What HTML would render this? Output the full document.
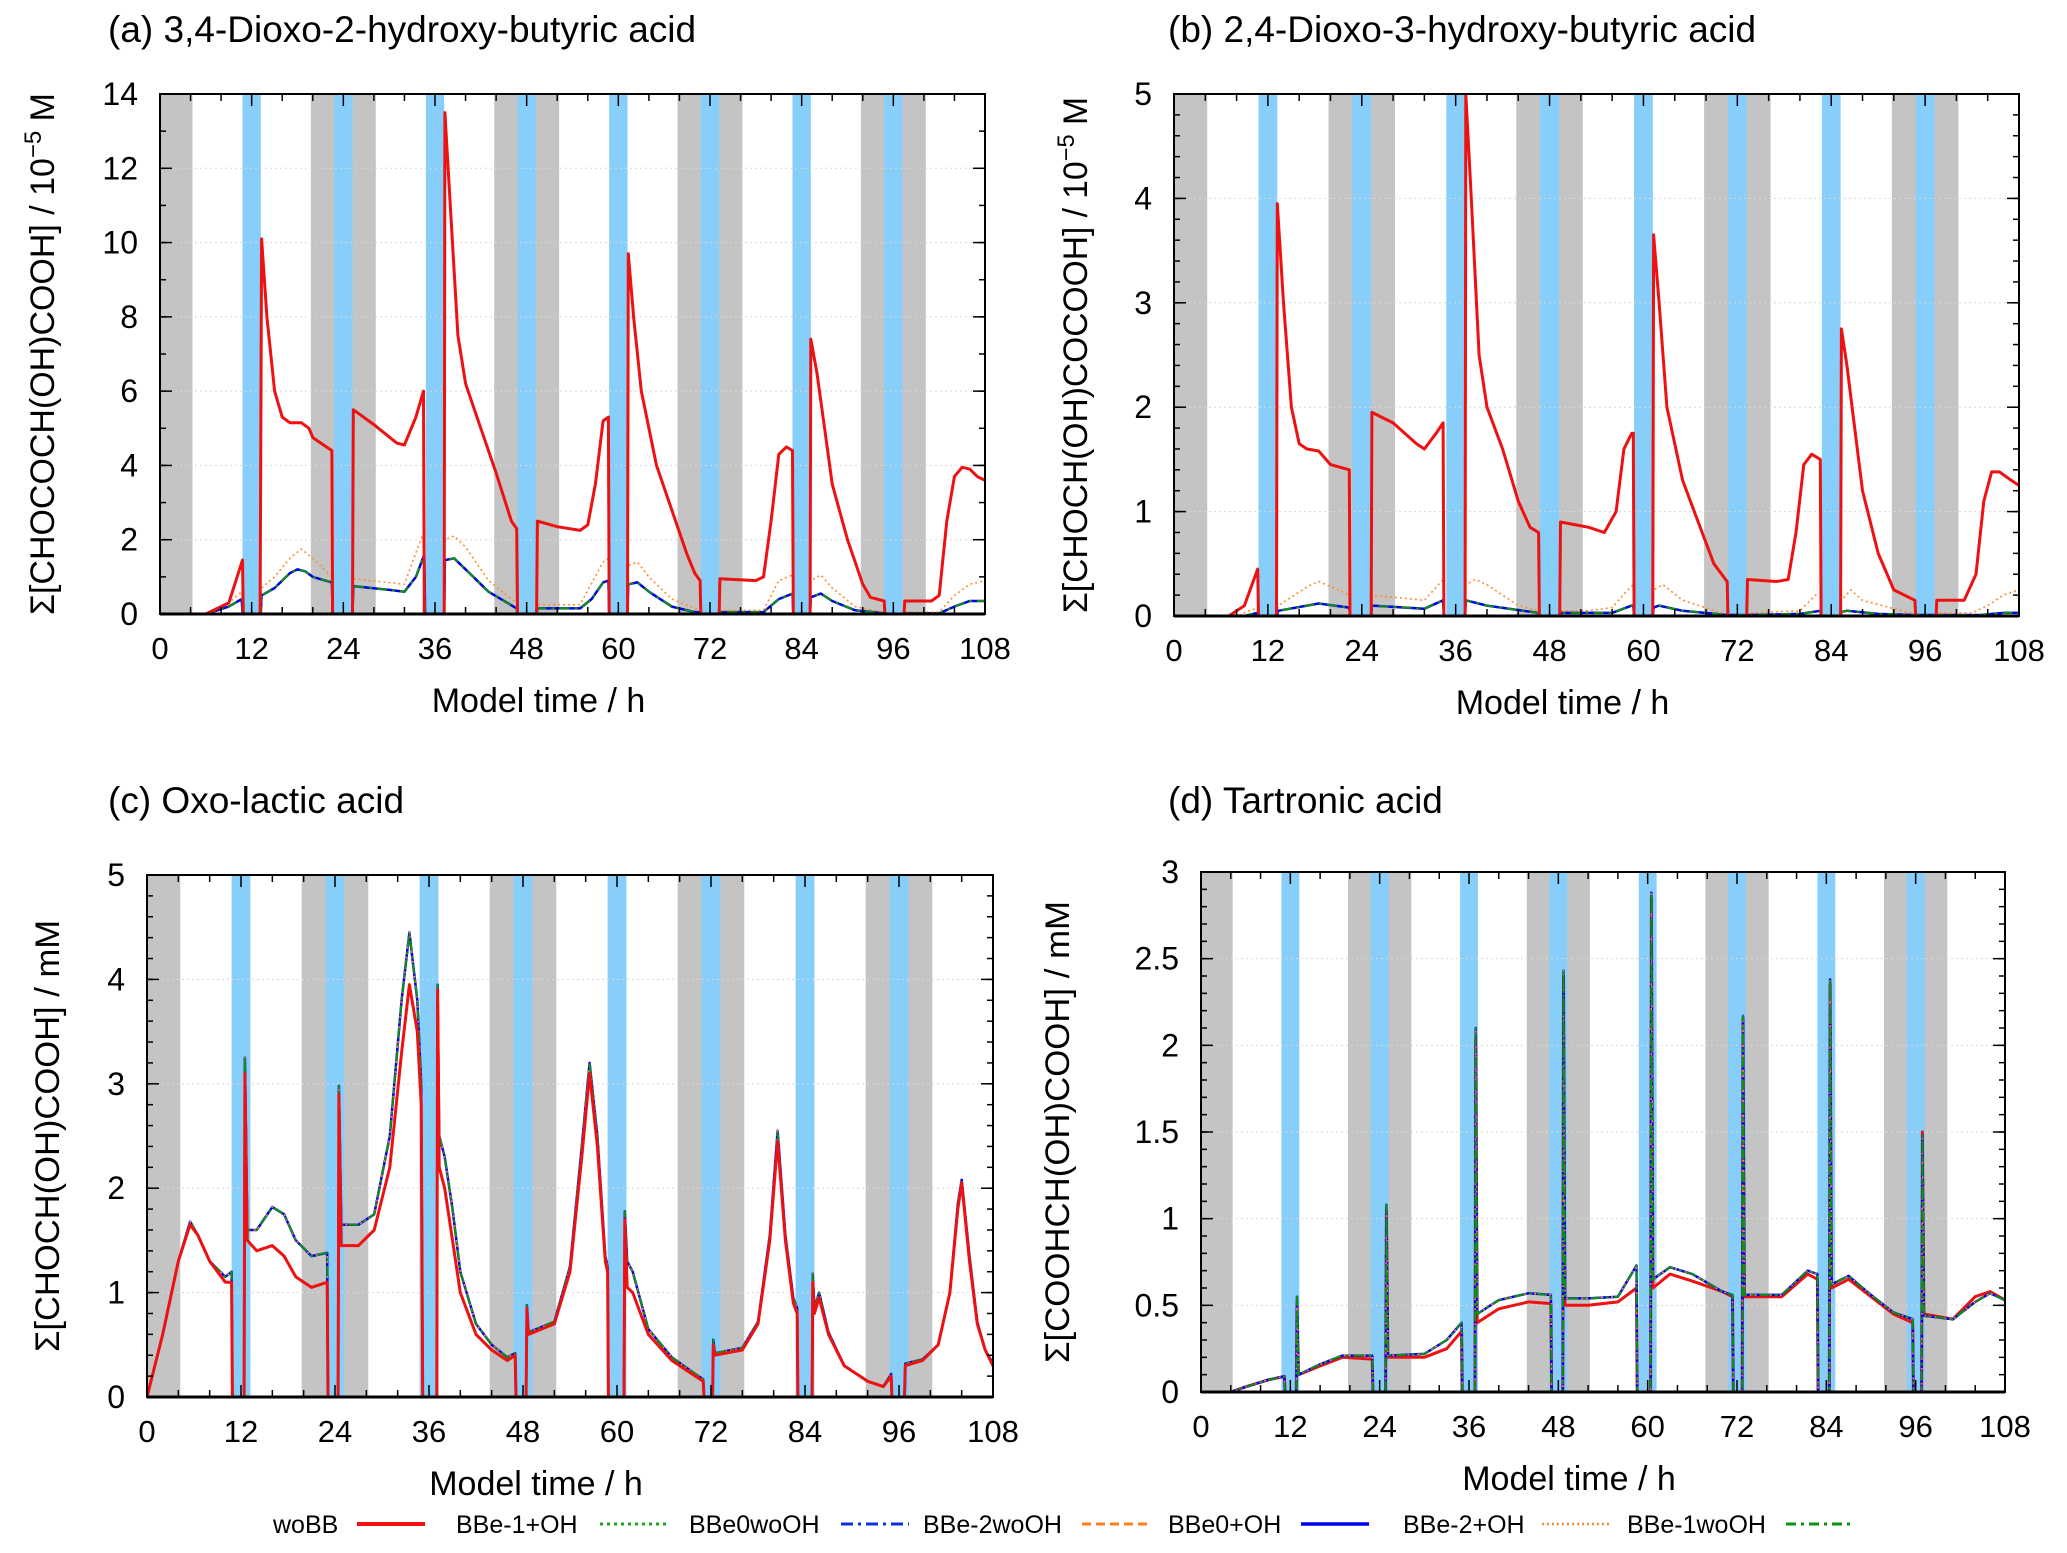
<!DOCTYPE html>
<html><head><meta charset="utf-8"><style>
html,body{margin:0;padding:0;background:#fff;}
svg{display:block;font-family:"Liberation Sans",sans-serif;}
</style></head><body>
<svg id="fig" width="2067" height="1553" viewBox="0 0 2067 1553" xmlns="http://www.w3.org/2000/svg"></svg>
<script>
// ---- data ----
const grayBands = [[-4.25,4.25],[19.75,28.25],[43.75,52.25],[67.75,76.25],[91.75,100.25]];
const blueBands = [[10.8,13.2],[22.8,25.2],[34.8,37.2],[46.8,49.2],[58.8,61.2],[70.8,73.2],[82.8,85.2],[94.8,97.2]];
const xTicks = [0,12,24,36,48,60,72,84,96,108];

const aRed = [[0,0],[6,0],[9,0.3],[10.8,1.45],[10.9,0],[13.1,0],[13.3,10.1],[14,8],[15,6],[16,5.3],[17,5.15],[18.5,5.15],[19.5,5.0],[20,4.75],[22.5,4.4],[22.6,0],[25.2,0],[25.3,5.5],[28,5.1],[31,4.6],[32,4.55],[33.5,5.3],[34.5,6.0],[34.6,0],[37.2,0],[37.3,13.5],[38,11],[39,7.5],[40,6.2],[42,5],[44,3.8],[46,2.5],[46.7,2.3],[46.8,0],[49.3,0],[49.4,2.5],[52,2.35],[55,2.25],[56,2.4],[57,3.5],[58,5.2],[58.7,5.3],[58.8,0],[61.2,0],[61.3,9.7],[62,8],[63,6],[65,4],[67,2.8],[69,1.6],[70,1.1],[70.7,0.9],[70.8,0],[73.2,0],[73.3,0.95],[78,0.9],[79,1.0],[80,2.5],[81,4.3],[82,4.5],[82.8,4.4],[82.9,0],[85.1,0],[85.2,7.4],[86,6.5],[87,5],[88,3.5],[90,2],[92,0.8],[93,0.45],[94.8,0.35],[94.9,0],[97.4,0],[97.5,0.35],[101,0.35],[102,0.5],[103,2.5],[104,3.7],[105,3.95],[106,3.9],[107,3.7],[108,3.6]];
const aOthers = [[0,0],[6,0],[9,0.2],[10.7,0.4],[10.8,0],[13.2,0],[13.3,0.5],[15,0.7],[17,1.1],[18,1.2],[19,1.15],[20,1.0],[22.5,0.85],[22.6,0],[25.2,0],[25.3,0.75],[30,0.65],[32,0.6],[33.5,1.0],[34.6,1.6],[34.7,0],[37.2,0],[37.3,1.45],[38.5,1.5],[40,1.2],[43,0.6],[46.7,0.15],[46.8,0],[49.3,0],[49.4,0.15],[55,0.15],[56.5,0.4],[58,0.85],[58.7,0.9],[58.8,0],[61.2,0],[61.3,0.8],[62.5,0.85],[64,0.6],[67,0.2],[70,0.05],[70.7,0.05],[70.8,0],[73.2,0],[73.3,0.05],[79,0.05],[81,0.4],[82.8,0.55],[82.9,0],[85.1,0],[85.2,0.45],[86.5,0.55],[88,0.35],[91,0.1],[94.8,0.02],[94.9,0],[97.4,0],[97.5,0.02],[102,0.02],[104,0.2],[106,0.35],[108,0.35]];
const aDotted = [[0,0],[6,0],[9,0.3],[10.7,0.6],[10.8,0],[13.2,0],[13.3,0.7],[15,1.0],[17,1.5],[18.5,1.75],[20,1.5],[22.5,1.0],[22.6,0],[25.2,0],[25.3,0.95],[32,0.8],[34.5,2.2],[34.6,0],[37.2,0],[37.3,2.0],[38.5,2.1],[40,1.8],[43,0.9],[46.7,0.3],[46.8,0],[49.3,0],[49.4,0.25],[55,0.25],[58,1.4],[58.7,1.5],[58.8,0],[61.2,0],[61.3,1.3],[62.5,1.4],[64,1.0],[67,0.4],[70.7,0.1],[70.8,0],[73.2,0],[73.3,0.1],[79,0.1],[81,0.9],[82.8,1.05],[82.9,0],[85.1,0],[85.2,0.9],[86.5,1.05],[88,0.7],[91,0.2],[94.8,0.05],[94.9,0],[97.4,0],[97.5,0.05],[102,0.05],[104,0.5],[106,0.8],[108,0.9]];

const bRed = [[0,0],[7,0],[9,0.1],[10.7,0.45],[10.8,0],[13.1,0],[13.2,3.95],[14,3],[15,2],[16,1.65],[17,1.6],[18.5,1.58],[20,1.45],[22.4,1.4],[22.5,0],[25.2,0],[25.3,1.95],[28,1.85],[31,1.65],[32,1.6],[33.5,1.75],[34.4,1.85],[34.5,0],[37.2,0],[37.3,5.0],[38,4],[39,2.5],[40,2.0],[42,1.6],[44,1.1],[45.5,0.85],[46.6,0.8],[46.7,0],[49.3,0],[49.4,0.9],[53,0.85],[55,0.8],[56.5,1.0],[57.5,1.6],[58.5,1.75],[58.7,1.75],[58.8,0],[61.2,0],[61.3,3.65],[62,3],[63,2],[65,1.3],[67,0.9],[69,0.5],[70.5,0.35],[70.7,0.33],[70.8,0],[73.2,0],[73.3,0.35],[77,0.33],[78.5,0.35],[79.5,0.8],[80.5,1.45],[81.5,1.55],[82.6,1.5],[82.7,0],[85.2,0],[85.3,2.75],[86,2.4],[87,1.8],[88,1.2],[90,0.6],[92,0.25],[94.7,0.15],[94.8,0],[97.4,0],[97.5,0.15],[101,0.15],[102.5,0.4],[103.5,1.1],[104.5,1.38],[105.5,1.38],[107,1.3],[108,1.25]];
const bOthers = [[0,0],[9,0],[10.7,0.03],[10.8,0],[13.2,0],[13.3,0.05],[17,0.1],[18.5,0.12],[22.4,0.08],[22.5,0],[25.2,0],[25.3,0.1],[32,0.07],[34.4,0.15],[34.5,0],[37.2,0],[37.3,0.15],[40,0.1],[46.6,0.03],[46.7,0],[49.3,0],[49.4,0.03],[56,0.03],[58.5,0.1],[58.7,0.1],[58.8,0],[61.2,0],[61.3,0.08],[62,0.1],[65,0.05],[70.7,0.01],[73.3,0.01],[80,0.02],[82.6,0.05],[82.7,0],[85.2,0],[85.3,0.04],[86,0.05],[90,0.02],[94.7,0.01],[97.5,0.01],[103,0.01],[106,0.03],[108,0.03]];
const bDotted = [[0,0],[8,0],[10.7,0.08],[10.8,0],[13.2,0],[13.3,0.1],[15,0.18],[17,0.28],[18.5,0.33],[21,0.25],[22.4,0.2],[22.5,0],[25.2,0],[25.3,0.2],[32,0.15],[34.4,0.35],[34.5,0],[37.2,0],[37.3,0.3],[38.5,0.35],[40,0.3],[44,0.1],[46.6,0.05],[46.7,0],[49.3,0],[49.4,0.05],[53,0.05],[56,0.08],[58,0.25],[58.7,0.3],[58.8,0],[61.2,0],[61.3,0.25],[62.5,0.3],[65,0.15],[70,0.03],[70.7,0.03],[70.8,0],[73.2,0],[73.3,0.03],[80,0.05],[82,0.2],[82.6,0.2],[82.7,0],[85.2,0],[85.3,0.15],[86.5,0.25],[88,0.15],[94,0.03],[94.7,0.03],[94.8,0],[97.4,0],[97.5,0.03],[102,0.03],[104,0.1],[106,0.2],[108,0.25]];

const cRed = [[0,0],[2,0.6],[4,1.3],[5.5,1.65],[6.5,1.55],[8,1.3],[10,1.1],[10.8,1.1],[10.9,0],[12.4,0],[12.5,3.1],[12.8,1.5],[14,1.4],[16,1.45],[17.5,1.35],[19,1.15],[21,1.05],[23,1.1],[23.1,0],[24.4,0],[24.5,2.9],[24.8,1.45],[27,1.45],[29,1.6],[31,2.2],[32.5,3.3],[33.5,3.95],[34.5,3.5],[35,2.8],[35.2,0],[37,0],[37.1,3.9],[37.3,2.2],[38,2.0],[39,1.5],[40,1.0],[42,0.6],[44,0.45],[46,0.35],[47,0.4],[47.1,0],[48.4,0],[48.5,0.85],[48.7,0.6],[52,0.7],[54,1.2],[55.5,2.3],[56.5,3.1],[57.5,2.4],[58.5,1.3],[58.8,1.2],[58.9,0],[60.9,0],[61,1.7],[61.3,1.05],[62,1.0],[64,0.6],[67,0.35],[70,0.2],[71,0.15],[71.1,0],[72.2,0],[72.3,0.5],[72.5,0.4],[76,0.45],[78,0.7],[79.5,1.5],[80.5,2.45],[81.5,1.5],[82.5,0.9],[83,0.8],[83.1,0],[84.9,0],[85,1.1],[85.2,0.8],[85.8,0.95],[87,0.6],[89,0.3],[92,0.15],[94,0.1],[95,0.2],[95.1,0],[96.7,0],[96.8,0.3],[99,0.35],[101,0.5],[102.5,1.0],[103.5,1.8],[104,2.05],[105,1.3],[106,0.7],[107,0.45],[108,0.3]];
const cOthers = [[0,0],[2,0.6],[4,1.3],[5.5,1.68],[6.5,1.55],[8,1.3],[10,1.15],[10.8,1.2],[10.9,0],[12.4,0],[12.5,3.25],[12.8,1.6],[14,1.6],[16,1.82],[17.5,1.75],[19,1.5],[21,1.35],[23,1.38],[23.1,0],[24.4,0],[24.5,2.98],[24.8,1.65],[27,1.65],[29,1.75],[31,2.5],[32.5,3.8],[33.5,4.45],[34.5,3.8],[35,3.0],[35.2,0],[37,0],[37.1,3.95],[37.3,2.5],[38,2.3],[39,1.8],[40,1.2],[42,0.7],[44,0.5],[46,0.38],[47,0.42],[47.1,0],[48.4,0],[48.5,0.88],[48.7,0.62],[52,0.72],[54,1.25],[55.5,2.4],[56.5,3.2],[57.5,2.5],[58.5,1.35],[58.8,1.25],[58.9,0],[60.9,0],[61,1.78],[61.3,1.3],[62,1.2],[64,0.65],[67,0.38],[70,0.22],[71,0.17],[71.1,0],[72.2,0],[72.3,0.55],[72.5,0.42],[76,0.47],[78,0.72],[79.5,1.55],[80.5,2.55],[81.5,1.55],[82.5,0.95],[83,0.85],[83.1,0],[84.9,0],[85,1.18],[85.2,0.85],[85.8,1.0],[87,0.62],[89,0.3],[92,0.15],[94,0.1],[95,0.22],[95.1,0],[96.7,0],[96.8,0.32],[99,0.36],[101,0.5],[102.5,1.0],[103.5,1.85],[104,2.08],[105,1.35],[106,0.72],[107,0.45],[108,0.32]];

const dRed = [[0,0],[4,0],[6,0.03],[9,0.07],[11.2,0.09],[11.3,0],[12.8,0],[12.9,0.5],[13.1,0.1],[16,0.15],[19,0.2],[23,0.19],[23.1,0],[24.8,0],[24.9,1.05],[25.1,0.2],[30,0.2],[33,0.25],[35,0.35],[35.1,0],[36.8,0],[36.9,2.05],[37.1,0.4],[40,0.48],[44,0.52],[47,0.51],[47.1,0],[48.6,0],[48.7,2.4],[48.9,0.5],[52,0.5],[56,0.52],[58.5,0.6],[58.6,0],[60.4,0],[60.5,2.85],[60.7,0.6],[63,0.68],[66,0.64],[70,0.58],[71.4,0.55],[71.5,0],[72.7,0],[72.8,2.15],[73,0.55],[78,0.55],[81.5,0.68],[82.8,0.65],[82.9,0],[84.4,0],[84.5,2.35],[84.7,0.6],[87,0.65],[90,0.55],[93,0.45],[95.6,0.4],[95.7,0],[96.8,0],[96.9,1.5],[97.1,0.45],[101,0.42],[104,0.55],[106,0.58],[108,0.53]];
const dOthers = [[0,0],[4,0],[6,0.03],[9,0.07],[11.2,0.09],[11.3,0],[12.8,0],[12.9,0.55],[13.1,0.1],[16,0.16],[19,0.21],[23,0.21],[23.1,0],[24.8,0],[24.9,1.08],[25.1,0.21],[30,0.22],[33,0.3],[35,0.4],[35.1,0],[36.8,0],[36.9,2.1],[37.1,0.45],[40,0.53],[44,0.57],[47,0.56],[47.1,0],[48.6,0],[48.7,2.43],[48.9,0.54],[52,0.54],[56,0.55],[58.5,0.73],[58.6,0],[60.4,0],[60.5,2.88],[60.7,0.65],[63,0.72],[66,0.68],[70,0.58],[71.4,0.56],[71.5,0],[72.7,0],[72.8,2.17],[73,0.56],[78,0.56],[81.5,0.7],[82.8,0.68],[82.9,0],[84.4,0],[84.5,2.38],[84.7,0.62],[87,0.67],[90,0.56],[93,0.46],[95.6,0.42],[95.7,0],[96.8,0],[96.9,1.48],[97.1,0.44],[101,0.42],[104,0.52],[106,0.57],[108,0.53]];

const aYTicks = [0,2,4,6,8,10,12,14];
const bYTicks = [0,1,2,3,4,5];
const cYTicks = [0,1,2,3,4,5];
const dYTicks = [0,0.5,1,1.5,2,2.5,3];

const legendLabels = ["woBB","BBe-1+OH","BBe0woOH","BBe-2woOH","BBe0+OH","BBe-2+OH","BBe-1woOH"];

// ---- drawing ----
const NS = "http://www.w3.org/2000/svg";
const svg = document.getElementById("fig");
function mk(tag, attrs, parent){
  const e = document.createElementNS(NS, tag);
  for (const k in attrs) e.setAttribute(k, attrs[k]);
  (parent||svg).appendChild(e);
  return e;
}
const styles = {
  "woBB":      {stroke:"#ee1111", w:3, dash:""},
  "BBe-1+OH":  {stroke:"#22a022", w:2, dash:"3,4"},
  "BBe0woOH":  {stroke:"#1030e0", w:2, dash:"12,5,3,5"},
  "BBe-2woOH": {stroke:"#ff7f20", w:2, dash:"9,5"},
  "BBe0+OH":   {stroke:"#0000ee", w:2.5, dash:""},
  "BBe-2+OH":  {stroke:"#ff8c30", w:1.6, dash:"2,3"},
  "BBe-1woOH": {stroke:"#109010", w:2, dash:"10,5,3,5"}
};

function panel(p){
  const g = mk("g", {});
  
  
  const X = t => p.L + (t/108)*(p.R-p.L);
  const Y = v => p.B - (v/p.ymax)*(p.B-p.T);
  const clip = mk("clipPath", {id:"clip-"+p.id}, g);
  mk("rect", {x:p.L, y:p.T, width:p.R-p.L, height:p.B-p.T}, clip);
  const bg = mk("g", {"clip-path":"url(#clip-"+p.id+")"}, g);
  for (const b of grayBands){
    const r = mk("rect", {x:X(b[0]), y:p.T, width:X(b[1])-X(b[0]), height:p.B-p.T, fill:"#c4c4c4"}, bg);
    
    
  }
  for (const b of blueBands){
    const r = mk("rect", {x:X(b[0]), y:p.T, width:X(b[1])-X(b[0]), height:p.B-p.T, fill:"#87cefa"}, bg);
    
    
  }
  for (const v of p.yticks){
    if (v===0 || v===p.ymax) continue;
    const l = mk("line", {x1:p.L, x2:p.R, y1:Y(v), y2:Y(v), stroke:"#d8d8d8", "stroke-width":1, "stroke-dasharray":"2,3"}, g);
    
    
  }
  const order = [["BBe-1+OH",p.others],["BBe0woOH",p.others],["BBe-2woOH",p.others],["BBe0+OH",p.others],["BBe-2+OH",p.dotted||p.others],["BBe-1woOH",p.others],["woBB",p.red]];
  if (p.redUnder) order.unshift(order.pop());
  for (const [lab, data] of order){
    const s = styles[lab];
    const d = data.map((pt,i)=>(i?"L":"M")+X(pt[0]).toFixed(1)+","+Y(pt[1]).toFixed(1)).join("");
    const path = mk("path", {d:d, fill:"none", stroke:s.stroke, "stroke-width":s.w, "stroke-dasharray":s.dash, "stroke-linejoin":"round", "clip-path":"url(#clip-"+p.id+")"}, g);
    
    
  }
  const fr = mk("rect", {x:p.L, y:p.T, width:p.R-p.L, height:p.B-p.T, fill:"none", stroke:"#000", "stroke-width":2}, g);
  
  
  mk("line", {x1:p.L, x2:p.R, y1:p.B, y2:p.B, stroke:"#000", "stroke-width":3}, g);
  for (let t=0;t<=108;t+=4){
    const len = (t%12===0)?12:7;
    mk("line", {x1:X(t), x2:X(t), y1:p.B, y2:p.B-len, stroke:"#000", "stroke-width":1.5}, g);
    mk("line", {x1:X(t), x2:X(t), y1:p.T, y2:p.T+len, stroke:"#000", "stroke-width":1.5}, g);
  }
  for (const t of xTicks){
    const tx = mk("text", {x:X(t), y:p.B+45, "font-size":31, "text-anchor":"middle"}, g);
    tx.textContent = t;
    
    
  }
  for (let v=0; v<=p.ymax+1e-9; v+=p.minor){
    mk("line", {x1:p.L, x2:p.L+6, y1:Y(v), y2:Y(v), stroke:"#000", "stroke-width":1.5}, g);
    mk("line", {x1:p.R, x2:p.R-6, y1:Y(v), y2:Y(v), stroke:"#000", "stroke-width":1.5}, g);
  }
  for (const v of p.yticks){
    mk("line", {x1:p.L, x2:p.L+12, y1:Y(v), y2:Y(v), stroke:"#000", "stroke-width":1.5}, g);
    mk("line", {x1:p.R, x2:p.R-12, y1:Y(v), y2:Y(v), stroke:"#000", "stroke-width":1.5}, g);
    const tx = mk("text", {x:p.L-22, y:Y(v)+11, "font-size":32, "text-anchor":"end"}, g);
    tx.textContent = v;
    
    
  }
  const ti = mk("text", {x:p.tx, y:p.ty, "font-size":37}, g);
  ti.textContent = p.title;
  
  
  const xl = mk("text", {x:(p.L+p.R)/2-34, y:p.B+98, "font-size":34, "text-anchor":"middle"}, g);
  xl.textContent = "Model time / h";
  
  
  const yl = mk("text", {x:0, y:0, "font-size":34, "text-anchor":"middle", textLength:p.ylen, lengthAdjust:"spacingAndGlyphs", transform:"translate("+p.ylx+","+((p.T+p.B)/2)+") rotate(-90)"}, g);
  yl.innerHTML = p.ylab;
  
  
}

panel({id:"a", name:"panel-a", L:160, R:985, T:94, B:614, ymax:14, minor:1, yticks:aYTicks, red:aRed, others:aOthers, dotted:aDotted,
  title:"(a) 3,4-Dioxo-2-hydroxy-butyric acid", tx:108, ty:42, ylx:54, ylen:522,
  ylab:'Σ[CHOCOCH(OH)COOH] / 10<tspan dy="-13" font-size="24">−5</tspan><tspan dy="13"> M</tspan>'});
panel({id:"b", name:"panel-b", L:1174, R:2019, T:94, B:616, ymax:5, minor:0.2, yticks:bYTicks, red:bRed, others:bOthers, dotted:bDotted,
  title:"(b) 2,4-Dioxo-3-hydroxy-butyric acid", tx:1168, ty:42, ylx:1087, ylen:516,
  ylab:'Σ[CHOCH(OH)COCOOH] / 10<tspan dy="-13" font-size="24">−5</tspan><tspan dy="13"> M</tspan>'});
panel({id:"c", name:"panel-c", L:147, R:993, T:875, B:1397, ymax:5, minor:0.2, yticks:cYTicks, red:cRed, others:cOthers,
  title:"(c) Oxo-lactic acid", tx:108, ty:813, ylx:59, ylen:432,
  ylab:'Σ[CHOCH(OH)COOH] / mM'});
panel({id:"d", name:"panel-d", L:1201, R:2005, T:872, B:1392, ymax:3, minor:0.1, yticks:dYTicks, red:dRed, others:dOthers, redUnder:true,
  title:"(d) Tartronic acid", tx:1168, ty:813, ylx:1069, ylen:462,
  ylab:'Σ[COOHCH(OH)COOH] / mM'});

const legTextX = [273,456,689,923,1168,1403,1627];
const legLineX = [357,600,841,1082,1301,1542,1786];
const legG = mk("g", {});


legendLabels.forEach((lab,i)=>{
  const t = mk("text", {x:legTextX[i], y:1533, "font-size":25}, legG);
  t.textContent = lab;
  
  
  const s = styles[lab];
  const l = mk("line", {x1:legLineX[i], x2:legLineX[i]+68, y1:1524, y2:1524, stroke:s.stroke, "stroke-width":s.w+1, "stroke-dasharray":s.dash}, legG);
  
  
});
</script>
</body></html>
